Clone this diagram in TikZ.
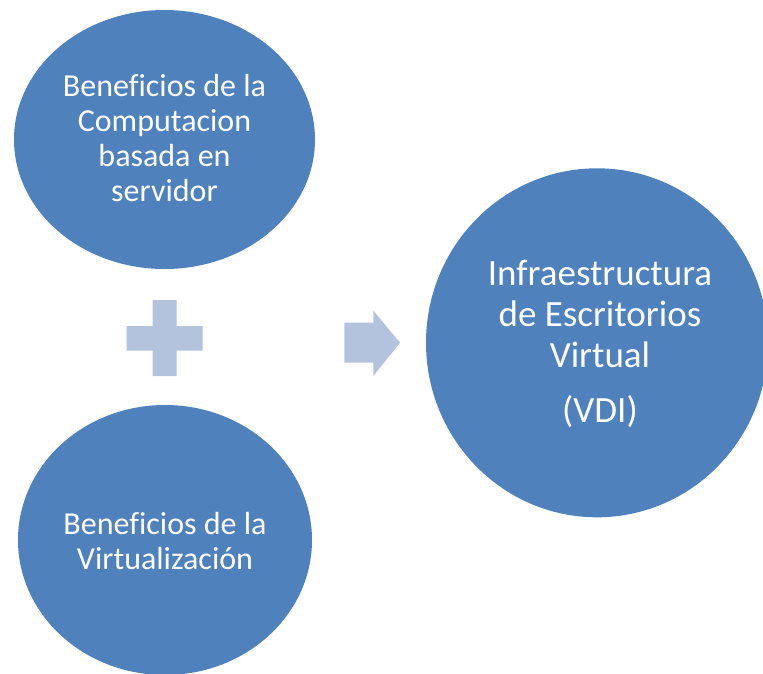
\documentclass[tikz,border=0pt]{standalone}
\usepackage{fontspec}
\setmainfont{Carlito}[Ligatures=NoCommon]
\usetikzlibrary{shapes.geometric}
\definecolor{circblue}{HTML}{4F81BD}
\definecolor{paleblue}{RGB}{179,195,222}
\begin{document}
\begin{tikzpicture}[x=1pt,y=-1pt,
  circ/.style={shape=ellipse, fill=circblue, draw=none, inner sep=0pt},
  txtsmall/.style={text=white, align=center, inner sep=0pt, font=\fontsize{32}{35}\selectfont},
  txtbig/.style={text=white, align=center, inner sep=0pt, font=\fontsize{37}{41}\selectfont},
  pale/.style={fill=paleblue, draw=none}]
\clip (0,0) rectangle (763,673);
\fill[white] (0,0) rectangle (763,673);
% circles
\node[circ, minimum width=301pt, minimum height=259pt] (c1) at (164.5,139.5) {};
\node[circ, minimum width=294pt, minimum height=270pt] (c2) at (165,540) {};
\node[circ, minimum width=342pt, minimum height=349pt] (c3) at (597,342.8) {};
% texts
\node[txtsmall] (t1) at (164.5,138.5) {Beneficios de la\\Computacion\\basada en\\servidor};
\node[txtsmall] (t2) at (165,540.5) {Beneficios de la\\Virtualización};
\node[txtbig] (t3) at (600,343.5) {Infraestructura\\de Escritorios\\Virtual\\[14pt](VDI)};
% plus sign
\path[pale] (152.7,300) -- (176.7,300) -- (176.7,326) -- (202.7,326) -- (202.7,350.7)
  -- (176.7,350.7) -- (176.7,376) -- (152.7,376) -- (152.7,350.7) -- (126.7,350.7)
  -- (126.7,326) -- (152.7,326) -- cycle;
% arrow
\path[pale] (344.3,322.7) -- (373.3,322.7) -- (373.3,310.7) -- (400,342.7)
  -- (373.3,376) -- (373.3,362.7) -- (344.3,362.7) -- cycle;
\end{tikzpicture}
\end{document}
